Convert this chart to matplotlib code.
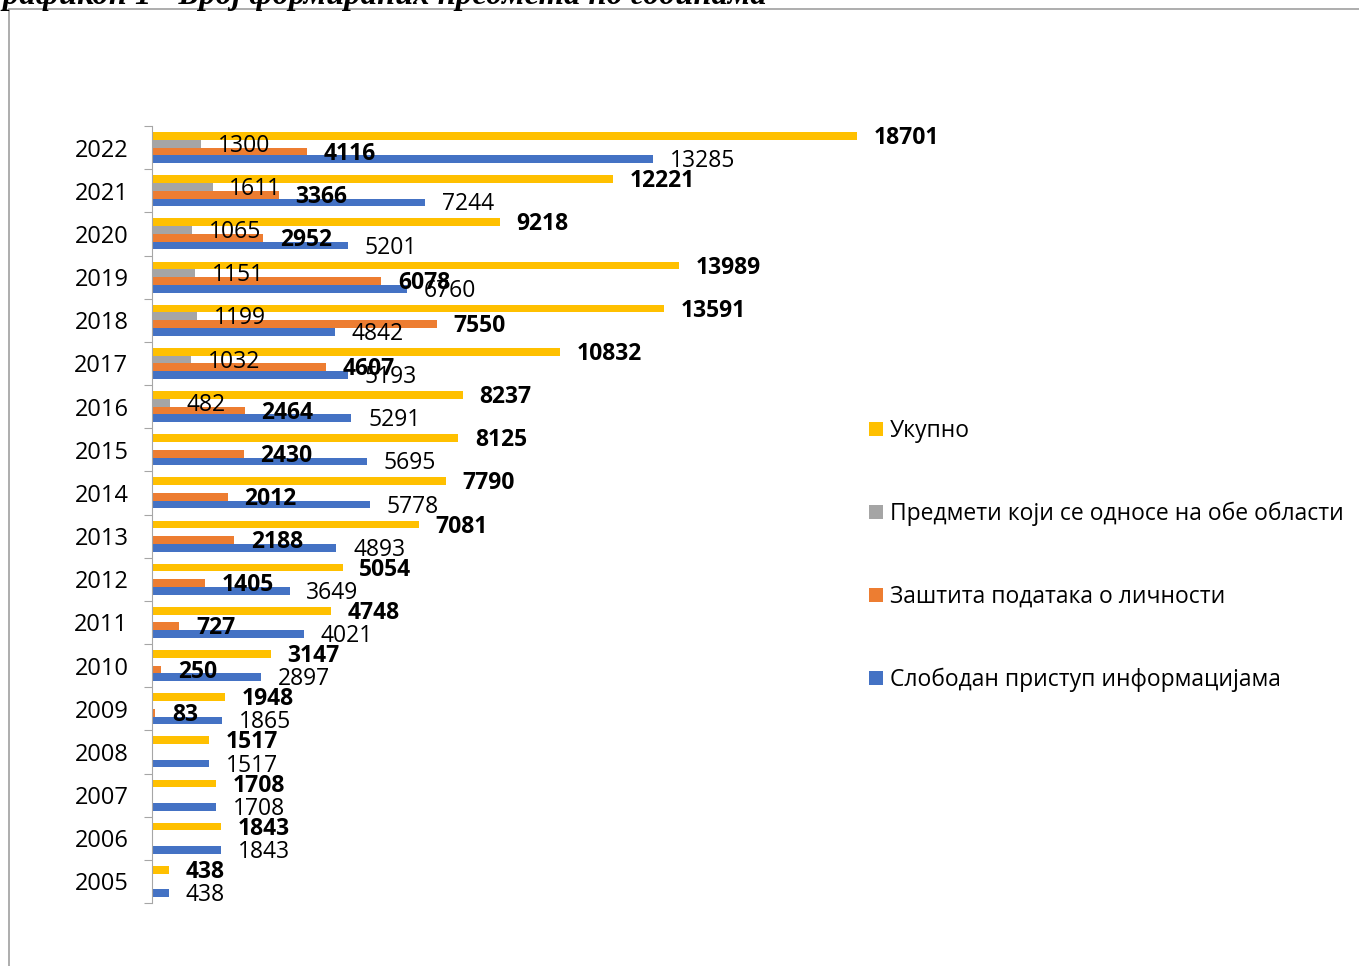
import matplotlib.pyplot as plt
import numpy as np
from matplotlib.patches import Rectangle

plt.rcParams['font.family'] = ['Open Sans', 'DejaVu Sans']

years = [2005, 2006, 2007, 2008, 2009, 2010, 2011, 2012, 2013,
         2014, 2015, 2016, 2017, 2018, 2019, 2020, 2021, 2022]

# Слободан приступ информацијама
free_access = [438, 1843, 1708, 1517, 1865, 2897, 4021, 3649, 4893,
               5778, 5695, 5291, 5193, 4842, 6760, 5201, 7244, 13285]
# Заштита података о личности
data_protection = [None, None, None, None, 83, 250, 727, 1405, 2188,
                   2012, 2430, 2464, 4607, 7550, 6078, 2952, 3366, 4116]
# Предмети који се односе на обе области
both_areas = [None, None, None, None, None, None, None, None, None,
              None, None, 482, 1032, 1199, 1151, 1065, 1611, 1300]
# Укупно
total = [438, 1843, 1708, 1517, 1948, 3147, 4748, 5054, 7081,
         7790, 8125, 8237, 10832, 13591, 13989, 9218, 12221, 18701]

series = [
    ("Слободан приступ информацијама", free_access, "#4472C4", "normal"),
    ("Заштита података о личности", data_protection, "#ED7D31", "bold"),
    ("Предмети који се односе на обе области", both_areas, "#A5A5A5", "normal"),
    ("Укупно", total, "#FFC000", "bold"),
]

W, H = 1359, 966
fig = plt.figure(figsize=(W / 100, H / 100), dpi=100)

# chart area border (cut off at right and bottom)
fig.patches.append(Rectangle((9 / W, -0.05), 1.2, 1 - 9 / H + 0.05,
                             transform=fig.transFigure, fill=False,
                             edgecolor="#A0A0A0", linewidth=1.2))

fig.text(-16 / W, 1 - 4 / H, "Графикон 1 - Број формираних предмета по годинама",
         family="Liberation Serif", fontweight="bold", fontstyle="italic",
         fontsize=23.5, va="baseline", ha="left")

ax = fig.add_axes([152 / W, 63 / H, 754 / W, 777 / H])

y = np.arange(len(years))
bar_h = 0.18
offsets = [-1.5, -0.5, 0.5, 1.5]

handles = {}
for (name, vals, color, weight), off in zip(series, offsets):
    vals = np.array([np.nan if v is None else v for v in vals], dtype=float)
    pos = y + off * bar_h
    bars = ax.barh(pos, np.nan_to_num(vals), height=bar_h, color=color, label=name)
    handles[name] = bars
    for yy, v in zip(pos, vals):
        if np.isnan(v):
            continue
        ax.annotate(f"{int(v)}", xy=(v, yy), xytext=(12, -1.5),
                    textcoords="offset points", ha="left", va="center",
                    fontsize=16.5, fontweight=weight, color="black")

ax.set_xlim(0, 20000)
ax.set_ylim(-0.5, len(years) - 0.5)
ax.set_xticks([])
ax.set_yticks(np.arange(-0.5, len(years), 1.0))
ax.set_yticklabels([])
ax.set_yticks(y, minor=True)
ax.set_yticklabels([str(v) for v in years], minor=True, fontsize=17)
ax.tick_params(axis="y", which="major", length=6, direction="out", color="#A6A6A6")
ax.tick_params(axis="y", which="minor", length=0, pad=17)
for side in ["top", "right", "bottom"]:
    ax.spines[side].set_visible(False)
ax.spines["left"].set_color("#A6A6A6")
ax.patch.set_visible(False)

order = ["Укупно", "Предмети који се односе на обе области",
         "Заштита података о личности", "Слободан приступ информацијама"]
fig.legend([handles[n] for n in order], order, loc="upper left",
           bbox_to_anchor=(860 / W, 1 - 410 / H), frameon=False, fontsize=16.5,
           handlelength=0.6, handleheight=0.6, handletextpad=0.3,
           labelspacing=2.56, borderaxespad=0)

fig.savefig("out.png", dpi=100)
